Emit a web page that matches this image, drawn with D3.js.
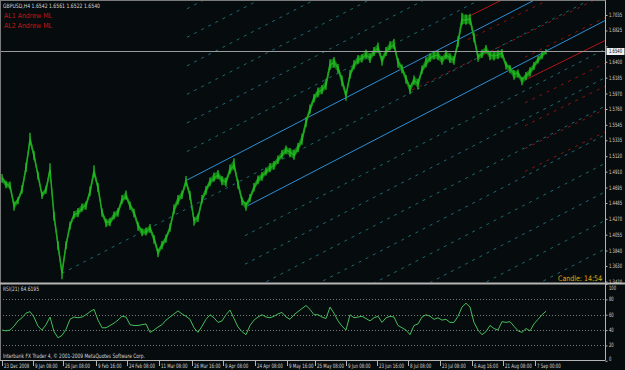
<!DOCTYPE html>
<html><head><meta charset="utf-8">
<script src="https://cdn.jsdelivr.net/npm/d3@7"></script>
<style>
html,body{margin:0;padding:0;background:#060b0d;}
svg{display:block;}
text{font-family:"DejaVu Sans",Verdana,sans-serif;}
</style></head><body>
<svg id="c" width="625" height="370"></svg>
<script>
// ---------- data ----------
const closes = [
1.4823,1.4742,1.4715,1.4457,1.4525,1.4660,1.4959,1.5339,1.5135,1.4864,
1.4593,1.4660,1.4932,1.4321,1.3914,1.3540,1.3914,1.4186,1.4321,1.4348,
1.4416,1.4457,1.4633,1.4905,1.4701,1.4362,1.4226,1.4226,1.4308,1.4362,
1.4525,1.4579,1.4457,1.4362,1.4186,1.4091,1.4091,1.4145,1.4009,1.3819,
1.3914,1.4009,1.4145,1.4389,1.4525,1.4593,1.4769,1.4593,1.4253,1.4281,
1.4525,1.4660,1.4769,1.4823,1.4864,1.4796,1.4769,1.4932,1.5000,1.4755,
1.4525,1.4457,1.4552,1.4688,1.4796,1.4850,1.4905,1.4959,1.5000,1.5068,
1.5135,1.5203,1.5176,1.5135,1.5230,1.5339,1.5583,1.5746,1.5909,1.5990,
1.6017,1.6085,1.6357,1.6397,1.6316,1.6153,1.5949,1.6221,1.6357,1.6424,
1.6452,1.6492,1.6452,1.6533,1.6587,1.6424,1.6533,1.6601,1.6628,1.6397,
1.6316,1.6180,1.6044,1.6153,1.6099,1.6289,1.6384,1.6452,1.6479,1.6492,
1.6424,1.6492,1.6452,1.6424,1.6655,1.6967,1.6967,1.6981,1.6736,1.6465,
1.6506,1.6560,1.6492,1.6479,1.6492,1.6519,1.6357,1.6316,1.6234,1.6248,
1.6153,1.6207,1.6262,1.6343,1.6424,1.6492,1.6540];

// bar range above / below the close for each sample, in pips
const upPips = [
60,45,70,50,40,80,90,120,60,50,
45,70,110,40,60,50,55,45,60,80,
70,50,90,110,60,50,45,65,70,60,
80,90,50,45,40,55,70,60,40,45,
60,50,70,90,80,70,100,60,40,70,
80,60,70,90,80,60,70,90,110,50,
40,40,60,80,70,60,70,80,60,70,
80,70,60,90,80,100,80,90,60,70,
80,100,90,80,60,70,50,80,70,80,
60,90,70,80,90,60,80,90,100,60,
50,40,40,70,80,70,90,70,80,70,
60,80,70,60,110,120,90,80,70,50,
70,80,60,70,80,60,50,40,60,50,
40,60,70,60,60,50,30];
const downPips = [
70,60,50,90,60,50,60,70,80,70,
60,50,70,90,80,110,60,70,50,60,
50,70,60,70,80,70,80,60,50,70,
60,50,70,80,90,60,50,70,90,80,
60,70,50,60,70,60,50,80,90,60,
50,70,60,50,60,80,70,60,70,90,
80,90,60,50,60,70,50,60,70,60,
50,60,80,70,60,70,80,60,70,80,
60,70,80,90,80,100,90,60,70,60,
70,50,80,60,70,90,60,50,60,90,
80,90,100,70,80,60,70,60,50,80,
70,60,80,70,60,80,70,90,80,70,
60,50,80,70,60,80,70,80,90,70,
80,60,70,60,50,60,40];

const rsiValues = [
40,39,40,45,52,56,62,64,57,45,
40,47,57,38,30,33,41,54,57,56,
57,60,64,67,53,43,43,46,49,53,
58,57,47,46,46,47,48,37,40,44,
47,53,57,61,65,61,58,54,43,37,
45,54,60,56,50,52,60,66,55,44,
38,34,46,53,57,60,57,56,58,61,
63,57,54,60,64,68,72,67,60,60,
57,55,70,62,52,45,40,60,56,57,
58,55,52,56,58,50,56,58,57,46,
43,40,34,46,48,57,60,58,54,56,
53,54,50,50,58,70,75,70,50,40,
34,38,46,42,40,51,50,51,45,39,
37,42,39,48,54,60,64.6195];

const priceTicks = [1.7035,1.6825,1.6610,1.6400,1.6185,1.5970,1.5760,1.5545,1.5335,
  1.5120,1.4910,1.4695,1.4485,1.4270,1.4055,1.3840,1.3630,1.3420];
const rsiTicks = [100,80,60,40,20,0];
const rsiLevels = [80,60,40,20];
const dateLabels = ["23 Dec 2008","9 Jan 08:00","26 Jan 08:00","9 Feb 16:00","24 Feb 08:00",
  "11 Mar 08:00","26 Mar 16:00","9 Apr 08:00","24 Apr 08:00","9 May 16:00","25 May 08:00",
  "9 Jun 08:00","23 Jun 16:00","8 Jul 08:00","23 Jul 08:00","6 Aug 16:00","21 Aug 08:00","7 Sep 00:00"];
const dateIndex = [0,7.75,15.25,23.5,31.25,39.25,47.5,55.25,63.25,71.25,78.25,86,93.75,101.5,109.5,117.5,125.25,133.25];

// Andrews pitchfork anchors: [bar index, price]
const al1Anchors = [[15,1.3530],[46.25,1.4796],[60.75,1.4429]];
const al2Anchors = [[102.5,1.6017],[116.5,1.7012],[130.75,1.6153]];
const al1Levels = [1,2,3,4,5,6,7,8,9,10,11,12,13,14];
const al2Levels = [0.5,1,1.5,2,2.5,3];

const symbol = "GBPUSD,H4";
const ohlc = [1.6542,1.6561,1.6522,1.6540];
const lastPrice = 1.6540;
const rsiLabel = "RSI(21) 64.6195";
const candleText = "Candle:  14:54";
const copyright = "Interbank FX Trader 4, \u00a9 2001-2009 MetaQuotes Software Corp.";

// ---------- layout ----------
const W = 625, H = 370;
const axisX = 605.5;
const mainTop = 1, mainBot = 282.5;
const rsiTop = 284.5, rsiBot = 360;

const svg = d3.select("#c");
svg.append("rect").attr("width",W).attr("height",H).attr("fill","#060b0d");

const x = d3.scaleLinear().domain([0, closes.length-1]).range([2, 546]);
const y = d3.scaleLinear().domain([1.3420, 1.7035]).range([281.5, 15]);
const yr = d3.scaleLinear().domain([0,100]).range([360.8, 284]);

const defs = svg.append("defs");
defs.append("clipPath").attr("id","cm").append("rect")
  .attr("x",0).attr("y",mainTop).attr("width",axisX).attr("height",mainBot-mainTop);
defs.append("clipPath").attr("id","cr").append("rect")
  .attr("x",0).attr("y",rsiTop).attr("width",axisX).attr("height",rsiBot-rsiTop);

const gMain = svg.append("g").attr("clip-path","url(#cm)");

// pitchfork
function fork(anchors, levels, brightCol, dotCol){
  const P = anchors.map(d => [x(d[0]), y(d[1])]);
  const [A,B,C] = P;
  const M = [(B[0]+C[0])/2, (B[1]+C[1])/2];
  const m = (M[1]-A[1])/(M[0]-A[0]);
  const iA = A[1]-m*A[0], iB = B[1]-m*B[0], iC = C[1]-m*C[0];
  const h = (iC-iB)/2;
  const lines = [{x0:A[0], i:iA, main:false}];
  levels.forEach(j=>{
    lines.push({x0:B[0], i:iA-j*h, main:j===1});
    lines.push({x0:C[0], i:iA+j*h, main:j===1});
  });
  gMain.selectAll(null).data(lines).enter().append("line")
    .attr("x1",d=>d.x0).attr("y1",d=>d.i+m*d.x0)
    .attr("x2",axisX).attr("y2",d=>d.i+m*axisX)
    .attr("stroke",d=>d.main?brightCol:dotCol)
    .attr("stroke-width",1)
    .attr("stroke-dasharray",d=>d.main?null:"3,5");
}
fork(al1Anchors, al1Levels, "#2f8fd6", "#1b6c74");
fork(al2Anchors, al2Levels, "#b01818", "#8c1414");

// price bars (high-low) + close line
const highs = closes.map((c,i)=>c+0.7*upPips[i]/10000);
const lows = closes.map((c,i)=>c-0.7*downPips[i]/10000);
const band = d3.area().x((d,i)=>x(i)).y0((d,i)=>y(lows[i])).y1((d,i)=>y(highs[i]));
gMain.append("path").datum(closes).attr("d",band).attr("fill","#0e780e");
const line = d3.line().x((d,i)=>x(i)).y(d=>y(d));
gMain.append("path").datum(closes).attr("d",line)
  .attr("fill","none").attr("stroke","#1fa81f").attr("stroke-width",1.6);
gMain.selectAll(null).data(closes).enter().append("line")
  .attr("x1",(d,i)=>x(i)).attr("x2",(d,i)=>x(i))
  .attr("y1",(d,i)=>y(highs[i])-1).attr("y2",(d,i)=>y(lows[i])+1)
  .attr("stroke","#27c027").attr("stroke-width",1.2);

// current price line
svg.append("line").attr("x1",0).attr("x2",axisX)
  .attr("y1",Math.round(y(lastPrice))+0.5).attr("y2",Math.round(y(lastPrice))+0.5)
  .attr("stroke","#9a9a9a").attr("stroke-width",1);

// RSI
const gR = svg.append("g").attr("clip-path","url(#cr)");
gR.selectAll(null).data(rsiLevels).enter().append("line")
  .attr("x1",0).attr("x2",axisX)
  .attr("y1",d=>Math.round(yr(d))+0.5).attr("y2",d=>Math.round(yr(d))+0.5)
  .attr("stroke","#7a7a7a").attr("stroke-dasharray","1,2");
gR.append("path").datum(rsiValues)
  .attr("d", d3.line().x((d,i)=>x(i)).y(d=>yr(d)))
  .attr("fill","none").attr("stroke","#46bd5c").attr("stroke-width",1);

// frames
const frame = "#b4b4b4";
svg.append("line").attr("x1",axisX).attr("x2",axisX).attr("y1",0).attr("y2",rsiBot).attr("stroke",frame);
svg.append("line").attr("x1",0.5).attr("x2",0.5).attr("y1",0).attr("y2",rsiBot).attr("stroke","#7a7a7a");
svg.append("line").attr("x1",0).attr("x2",axisX).attr("y1",0.5).attr("y2",0.5).attr("stroke","#7a7a7a");
svg.append("rect").attr("x",0).attr("y",mainBot).attr("width",W).attr("height",2).attr("fill",frame);
svg.append("line").attr("x1",0).attr("x2",axisX).attr("y1",rsiBot+0.5).attr("y2",rsiBot+0.5).attr("stroke",frame);

// helper for compressed small text
function txt(px,py,str,size,sx,fill,anchor){
  const t = svg.append("text")
    .attr("transform",`translate(${px},${py}) scale(${sx},1)`)
    .attr("font-size",size).attr("fill",fill).text(str);
  if (anchor) t.attr("text-anchor",anchor);
  return t;
}

// price axis
const yAxis = d3.axisRight(y).tickValues(priceTicks).tickSize(2).tickFormat("");
const gy = svg.append("g").attr("transform",`translate(${axisX},0)`).call(yAxis);
gy.select(".domain").remove();
gy.selectAll(".tick line").attr("stroke",frame);
const ly = y(lastPrice);
priceTicks.forEach(p=>{
  if (Math.abs(y(p)-ly) < 6) return; // hidden behind current price label
  txt(609, y(p)+2, d3.format(".4f")(p), 6, 0.62, "#d8d8d8");
});

// current price label
svg.append("rect").attr("x",606.5).attr("y",ly-3.5).attr("width",18).attr("height",7).attr("fill","#f0f0f0");
txt(609, ly+2, d3.format(".4f")(lastPrice), 6, 0.62, "#000");

// rsi axis
const gyr = svg.append("g").attr("transform",`translate(${axisX},0)`)
  .call(d3.axisRight(yr).tickValues(rsiTicks).tickSize(2).tickFormat(""));
gyr.select(".domain").remove();
gyr.selectAll(".tick line").attr("stroke",frame);
rsiTicks.forEach(v=>{
  const py = Math.max(288, Math.min(358.5, yr(v)));
  txt(609, py+2, String(v), 6, 0.62, "#d8d8d8");
});

// time axis
const gx = svg.append("g").attr("transform",`translate(0,${rsiBot})`)
  .call(d3.axisBottom(x).tickValues(dateIndex).tickSize(6).tickFormat(""));
gx.select(".domain").remove();
gx.selectAll(".tick line").attr("stroke",frame);
dateIndex.forEach((d,i)=>{ txt(x(d)+2, 367.5, dateLabels[i], 6, 0.66, "#d8d8d8"); });

// texts
svg.append("text").attr("x",3).attr("y",7.5).attr("font-size",6).attr("fill","#d8d8d8")
  .attr("textLength",97).attr("lengthAdjust","spacingAndGlyphs")
  .text(symbol+" "+ohlc.map(d3.format(".4f")).join(" "));
svg.append("text").attr("x",4).attr("y",17.5).attr("font-size",7).attr("fill","#c81414")
  .attr("textLength",48).attr("lengthAdjust","spacingAndGlyphs").text("AL1  Andrew ML");
svg.append("text").attr("x",4).attr("y",27.5).attr("font-size",7).attr("fill","#c81414")
  .attr("textLength",48).attr("lengthAdjust","spacingAndGlyphs").text("AL2  Andrew ML");
svg.append("text").attr("x",3).attr("y",291).attr("font-size",6).attr("fill","#d8d8d8")
  .attr("textLength",36).attr("lengthAdjust","spacingAndGlyphs").text(rsiLabel);
svg.append("text").attr("x",3).attr("y",358).attr("font-size",6).attr("fill","#d8d8d8")
  .attr("textLength",142).attr("lengthAdjust","spacingAndGlyphs").text(copyright);
svg.append("text").attr("x",558).attr("y",280.5).attr("font-size",7.5).attr("fill","#f0a010")
  .attr("textLength",44).attr("lengthAdjust","spacingAndGlyphs").text(candleText);
</script>
</body></html>
